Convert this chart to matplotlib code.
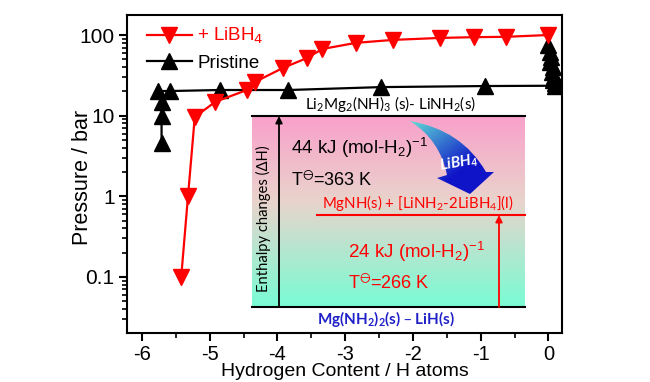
import numpy as np
import matplotlib
matplotlib.use('Agg')
import matplotlib.pyplot as plt
from matplotlib.path import Path
from matplotlib.patches import PathPatch
from matplotlib.ticker import FixedLocator, NullFormatter, LogLocator

plt.rcParams.update({
    'font.family': ['Liberation Sans', 'DejaVu Sans'],
    'axes.linewidth': 1.5,
    'xtick.major.width': 1.5,
    'ytick.major.width': 1.5,
    'xtick.minor.width': 1.2,
    'ytick.minor.width': 1.2,
})

# + LiBH4 desorption isotherm
libh4_x = [-5.42, -5.32, -5.22, -4.92, -4.45, -4.33, -3.92, -3.56, -3.34,
           -2.84, -2.29, -1.60, -1.10, -0.62, 0.0]
libh4_y = [0.1, 1.0, 9.6, 14.8, 20.8, 26.2, 39, 52, 67,
           80, 87, 92, 94, 95, 100]

# pristine desorption isotherm
pristine_x = [0.0, 0.02, 0.04, 0.03, 0.06, 0.05, 0.08, 0.07, 0.09, 0.1,
              -0.93, -2.47, -3.84, -4.85, -5.59, -5.76, -5.71, -5.71, -5.71]
pristine_y = [75, 62, 53, 46, 40, 35, 31, 28, 25.5, 23.5,
              23.3, 22.6, 20.8, 20.8, 20.2, 20.2, 14.8, 10, 4.6]

xticks = [-6, -5, -4, -3, -2, -1, 0]
xtick_labels = ['-6', '-5', '-4', '-3', '-2', '-1', '0']
yticks = [0.1, 1, 10, 100]
ytick_labels = ['0.1', '1', '10', '100']

fig = plt.figure(figsize=(6.5, 3.82), dpi=100)
ax = fig.add_axes([0.1954, 0.1283, 0.6692, 0.8324])

ax.plot(libh4_x, libh4_y, color='#ff0000', lw=1.6, marker='v', ms=11,
        label='+ LiBH$_4$', zorder=3)
ax.plot(pristine_x, pristine_y, color='black', lw=1.6, marker='^', ms=11,
        label='Pristine', zorder=2)

ax.set_yscale('log')
ax.set_xlim(-6.22, 0.2)
ax.set_ylim(0.0202, 177)

ax.set_xticks(xticks)
ax.set_xticklabels(xtick_labels)
ax.xaxis.set_minor_locator(FixedLocator([t + 0.5 for t in xticks[:-1]]))
ax.set_yticks(yticks)
ax.set_yticklabels(ytick_labels)
ax.yaxis.set_minor_locator(LogLocator(base=10, subs=np.arange(2, 10)))
ax.yaxis.set_minor_formatter(NullFormatter())

ax.tick_params(which='major', direction='out', length=6)
ax.tick_params(which='minor', direction='out', length=3.5)
ax.tick_params(axis='x', which='major', labelsize=14.5, pad=3)
ax.tick_params(axis='y', which='major', labelsize=15, pad=3)

ax.set_xlabel('Hydrogen Content / H atoms', fontsize=14, labelpad=-1)
ax.set_ylabel('Pressure / bar', fontsize=15.5)
ax.yaxis.set_label_coords(-0.078, 0.49)

leg = ax.legend(loc='upper left', bbox_to_anchor=(0.045, 0.965), frameon=False,
                fontsize=13.5, handlelength=2.4, handletextpad=0.3,
                labelspacing=0.45, borderpad=0, borderaxespad=0,
                labelcolor='linecolor')

# inset energy diagram, drawn in figure pixel coordinates
ov = fig.add_axes([0, 0, 1, 1], zorder=5)
ov.patch.set_visible(False)
ov.set_axis_off()

stops = np.array([[249, 160, 202], [233, 212, 204], [120, 252, 212]]) / 255.0
t = np.linspace(0, 1, 200)
grad = np.empty((200, 1, 3))
for c in range(3):
    grad[:, 0, c] = np.interp(t, [0, 0.45, 1], stops[:, c])
ov.imshow(grad, extent=(252, 525, 307, 116), aspect='auto', zorder=1)

ov.plot([252, 525], [116, 116], color='black', lw=1.5, zorder=2)
ov.plot([252, 525], [307, 307], color='black', lw=1.5, zorder=2)
ov.plot([317, 525], [215, 215], color='#ff0000', lw=1.5, zorder=2)
ov.annotate('', xy=(279, 116), xytext=(279, 307),
            arrowprops=dict(arrowstyle='-|>', color='black', lw=1.3,
                            mutation_scale=10, shrinkA=0, shrinkB=0), zorder=3)
ov.annotate('', xy=(499, 215), xytext=(499, 307),
            arrowprops=dict(arrowstyle='-|>', color='#ff0000', lw=1.3,
                            mutation_scale=10, shrinkA=0, shrinkB=0), zorder=3)

# curved gradient arrow
verts = [(410, 121), (462, 130), (486, 172), (494, 172), (470, 194),
         (437, 178), (447, 175), (440, 140), (410, 121), (410, 121)]
codes = [Path.MOVETO, Path.CURVE3, Path.CURVE3, Path.LINETO, Path.LINETO,
         Path.LINETO, Path.LINETO, Path.CURVE3, Path.CURVE3, Path.CLOSEPOLY]
arrow = PathPatch(Path(verts, codes), facecolor='none', edgecolor='none', zorder=3)
ov.add_patch(arrow)
gx, gy = np.meshgrid(np.linspace(405, 497, 120), np.linspace(118, 197, 120))
tt = np.clip(((gx - 410) * 0.6 + (gy - 121) * 0.8) / 70.0, 0, 1)
c0 = np.array([95, 220, 215]) / 255.0
c1 = np.array([15, 20, 200]) / 255.0
img = c0[None, None, :] * (1 - tt[..., None]) + c1[None, None, :] * tt[..., None]
im = ov.imshow(img, extent=(405, 497, 197, 118), aspect='auto', zorder=3)
im.set_clip_path(arrow)
ov.text(459, 163, r'$\mathregular{LiBH_4}$', color='white', fontsize=11,
        fontstyle='italic', fontweight='bold', family='Lato',
        rotation=10, ha='center', va='center', zorder=4)

ov.text(390, 104, r'Li$\mathregular{_2}$Mg$\mathregular{_2}$(NH)$\mathregular{_3}$ (s)- LiNH$\mathregular{_2}$(s)',
        family='Lato', fontsize=11, ha='center', va='center', zorder=4)
ov.text(291, 148, r'44 kJ (mol-H$\mathregular{_2}$)$\mathregular{^{-1}}$',
        fontsize=13.5, ha='left', va='center', zorder=4)
ov.text(291, 180, r'T$\mathregular{^{\ominus}}$=363 K',
        fontsize=13, ha='left', va='center', zorder=4)
ov.text(322, 203, r'MgNH(s) + [LiNH$\mathregular{_2}$-2LiBH$\mathregular{_4}$](l)',
        family='Lato', fontsize=10.8, color='#ff0000', ha='left', va='center', zorder=4)
ov.text(348, 252, r'24 kJ (mol-H$\mathregular{_2}$)$\mathregular{^{-1}}$',
        fontsize=13.5, color='#ff0000', ha='left', va='center', zorder=4)
ov.text(348, 283, r'T$\mathregular{^{\ominus}}$=266 K',
        fontsize=13, color='#ff0000', ha='left', va='center', zorder=4)
ov.text(386, 319, r'Mg(NH$\mathregular{_2}$)$\mathregular{_2}$(s) – LiH(s)',
        family='Lato', fontsize=11, fontweight='bold', color='#2020c8',
        ha='center', va='center', zorder=4)
ov.text(263, 219, 'Enthalpy changes (ΔH)', family='Lato', fontsize=10.6,
        rotation=90, ha='center', va='center', zorder=4)

ov.set_xlim(0, 650)
ov.set_ylim(382, 0)

fig.savefig('out.png', dpi=100)
